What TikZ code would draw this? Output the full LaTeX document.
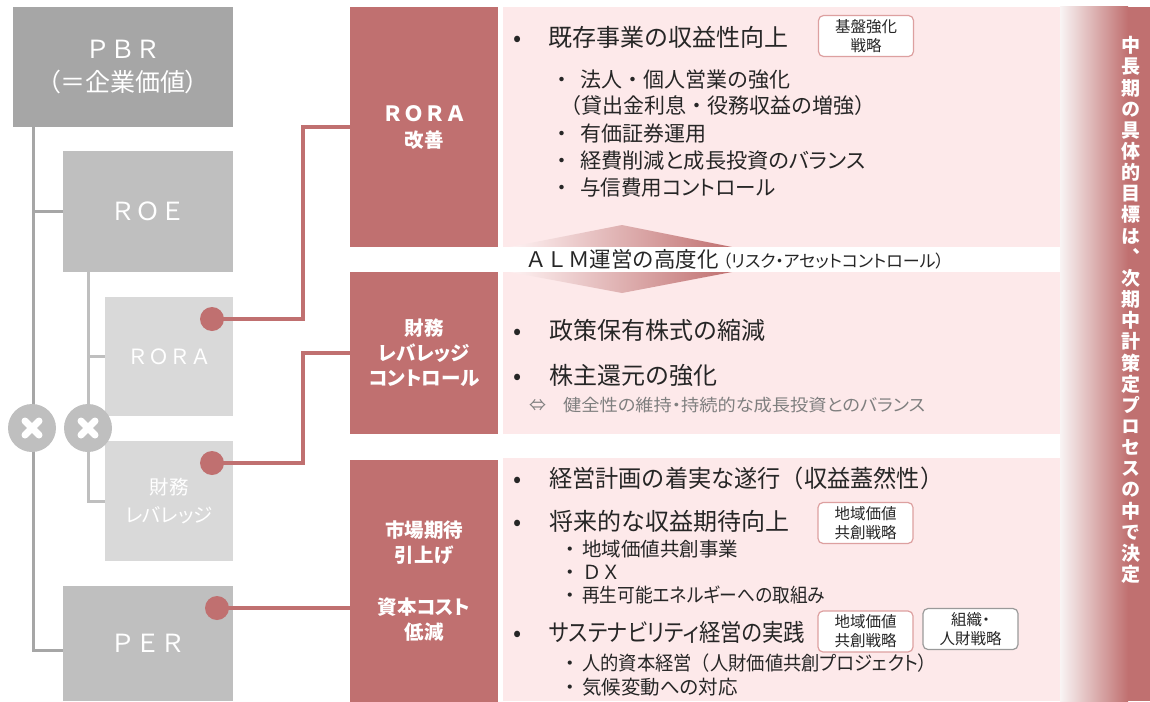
\documentclass[tikz,border=0pt]{standalone}
\usepackage{fontspec}
\usepackage{graphicx}
\setmainfont{Noto Sans CJK JP}[RawFeature=+palt]
\newfontfamily\jpfull{Noto Sans CJK JP}
\newfontfamily\jpvert{Noto Sans CJK JP}[RawFeature=+vert]
\usetikzlibrary{calc}
\definecolor{greyD}{HTML}{A6A6A6}
\definecolor{greyM}{HTML}{BFBFBF}
\definecolor{greyL}{HTML}{D9D9D9}
\definecolor{redc}{HTML}{C07070}
\definecolor{pinkc}{HTML}{FDE9EA}
\definecolor{textc}{HTML}{262626}
\definecolor{subgrey}{HTML}{7F7F7F}
\definecolor{tagred}{HTML}{DDA0A0}
\definecolor{taggrey}{HTML}{9A9A9A}
\newcommand\fz[2]{\fontsize{#1}{#2}\selectfont}
\newcommand\fitw[2]{\resizebox{#1}{\height}{#2}}
\begin{document}
\begin{tikzpicture}[x=1pt,y=-1pt,
  box/.style={inner sep=0, outer sep=0, draw=none, text=white, align=center},
  gl/.style={draw=greyD, line width=3pt},
  gl2/.style={draw=greyM, line width=3pt},
  rl/.style={draw=redc, line width=3.3pt},
  dot/.style={circle, fill=redc, minimum size=24pt, inner sep=0},
  xcirc/.style={circle, fill=greyM, minimum size=48pt, inner sep=0},
  xbar/.style={draw=white, line width=7pt, line cap=round},
  tag/.style={draw=tagred, fill=white, rounded corners=5pt, line width=1.2pt, inner sep=0, minimum width=95pt, minimum height=41pt, align=center, font=\fz{15.5}{19}, text=textc},
  item/.style={anchor=west, inner sep=0, text=textc, font=\fz{24}{28}},
  subA/.style={anchor=west, inner sep=0, text=textc, font=\fz{21}{25}},
  subB/.style={anchor=west, inner sep=0, text=textc, font=\fz{19.5}{23}},
  redbold/.style={box, fill=redc, font=\bfseries\fz{19.5}{25}, minimum width=148pt}
]
\useasboundingbox (0,0) rectangle (1150,701);

% ---------- left tree ----------
\node[box, fill=greyD, minimum width=220pt, minimum height=120pt, font=\fz{25}{33}] (pbr) at (123,67)
  {{\jpfull ＰＢＲ}\\（＝企業価値）};
\node[box, fill=greyM, minimum width=170pt, minimum height=121pt, font=\jpfull\fz{25}{30}] (roe) at (148,211.5) {ＲＯＥ};
\node[box, fill=greyL, minimum width=128pt, minimum height=119pt, font=\jpfull\fz{21}{24}] (rora) at (169,356.5) {ＲＯＲＡ};
\node[box, fill=greyL, minimum width=128pt, minimum height=120pt, font=\fz{19.5}{28}] (fin) at (169,501) {財務\\レバレッジ};
\node[box, fill=greyM, minimum width=170pt, minimum height=115pt, font=\jpfull\fz{25}{30}] (per) at (148,643.5) {ＰＥＲ};

\draw[gl] (pbr.south -| 33,0) -- (33,650) -- (per.west |- 0,650);
\draw[gl] (33,0 |- roe.west) -- (roe.west);
\draw[gl2] (roe.south -| 88,0) |- (fin.west);
\draw[gl2] (88,0 |- rora.west) -- (rora.west);

\node[xcirc] (c1) at (32,428) {};
\node[xcirc] (c2) at (88,428) {};
\foreach \c in {c1,c2}{
  \draw[xbar] ([shift={(-7,-7)}]\c.center) -- ([shift={(7,7)}]\c.center);
  \draw[xbar] ([shift={(-7,7)}]\c.center) -- ([shift={(7,-7)}]\c.center);
}

% ---------- red boxes ----------
\node[redbold, minimum height=240pt] (rb1) at (424,127) {{\jpfull\fz{21}{25}ＲＯＲＡ}\\[1pt]改善};
\node[redbold, minimum height=162pt] (rb2) at (424,353) {財務\\レバレッジ\\コントロール};
\node[redbold, minimum height=243pt] (rb3) at (424,581) {市場期待\\引上げ\\[27pt]資本コスト\\低減};

% ---------- connectors ----------
\node[dot] (d1) at (212,319) {};
\node[dot] (d2) at (212,463) {};
\node[dot] (d3) at (217,608) {};
\draw[rl] (d1.center) -| ([xshift=-47pt]rb1.west) -- (rb1.west);
\draw[rl] (d2.center) -| ([xshift=-47pt]rb2.west) -- (rb2.west);
\draw[rl] (d3.center) -- (rb3.west |- d3.center);

% ---------- pink panels ----------
\node[box, fill=pinkc, minimum width=557pt, minimum height=240pt] (p1) at (781.5,127) {};
\node[box, fill=pinkc, minimum width=557pt, minimum height=162pt] (p2) at (781.5,353) {};
\node[box, fill=pinkc, minimum width=557pt, minimum height=243pt] (p3) at (781.5,579.5) {};

% right strip
\shade[left color=pinkc!85!gray!30, right color=redc] (1060,7) rectangle (1128,701);
\fill[redc] (1127.5,7) rectangle (1150,701);
\node[box, font=\jpvert\bfseries\fz{19}{21.15}] (strip) at (1131,310)
  {中\\長\\期\\の\\具\\体\\的\\目\\標\\は\\、\\次\\期\\中\\計\\策\\定\\プ\\ロ\\セ\\ス\\の\\中\\で\\決\\定};

% ALM arrow
\shade[left color=pinkc!60!white, right color=redc] (510,247) -- (622,225) -- (732,247) -- (732,272) -- (622,293) -- (510,272) -- cycle;
\node[box, fill=white, minimum width=554pt, minimum height=25pt] (alm) at (780,259.5) {};
\node[anchor=west, inner sep=0, text=textc] (almt) at (525,259.5)
  {{\jpfull\fz{21.5}{25}ＡＬＭ運営の高度化}\hspace{4pt}{\fz{17}{20}（リスク・アセットコントロール）}};

% ---------- panel 1 ----------
\node[item] (i11) at (513,37) {\makebox[35pt][l]{•}{\jpfull 既存事業の収益性向上}};
\node[tag] (t1) at (866,36) {基盤強化\\戦略};
\node[subA] (s11) at (557,80) {\makebox[23pt][l]{・}{\jpfull 法人・個人営業の強化}};
\node[subA] (s12) at (560,106) {\jpfull （貸出金利息・役務収益の増強）};
\node[subA] (s13) at (557,134) {\makebox[23pt][l]{・}{\jpfull 有価証券運用}};
\node[subA] (s14) at (557,161) {\makebox[23pt][l]{・}\fitw{285pt}{経費削減と成長投資のバランス}};
\node[subA] (s15) at (557,188) {\makebox[23pt][l]{・}\fitw{195pt}{与信費用コントロール}};

% ---------- panel 2 ----------
\node[item] (i21) at (513,330) {\makebox[36pt][l]{•}{\jpfull 政策保有株式の縮減}};
\node[item] (i22) at (513,375) {\makebox[36pt][l]{•}{\jpfull 株主還元の強化}};
\node[anchor=west, inner sep=0, text=subgrey, font=\fz{17}{20}] (n21) at (529,405) {\makebox[34pt][l]{⇔}\fitw{362pt}{健全性の維持・持続的な成長投資とのバランス}};

% ---------- panel 3 ----------
\node[item] (i31) at (513,478) {\makebox[36pt][l]{•}\fitw{394pt}{\jpfull 経営計画の着実な遂行（収益蓋然性）}};
\node[item] (i32) at (513,521) {\makebox[36pt][l]{•}{\jpfull 将来的な収益期待向上}};
\node[tag] (t2) at (865.5,523) {地域価値\\共創戦略};
\node[subB] (s31) at (565,549) {\makebox[17pt][l]{・}地域価値共創事業};
\node[subB] (s32) at (565,572) {\makebox[17pt][l]{・}{\jpfull ＤＸ}};
\node[subB] (s33) at (565,595) {\makebox[17pt][l]{・}\fitw{243pt}{再生可能エネルギーへの取組み}};
\node[item] (i33) at (513,632) {\makebox[36pt][l]{•}\fitw{256pt}{サステナビリティ経営の実践}};
\node[tag] (t3) at (865.5,631.5) {地域価値\\共創戦略};
\node[tag, draw=taggrey] (t4) at (970.5,629) {組織・\\人財戦略};
\node[subB] (s34) at (565,663) {\makebox[17pt][l]{・}\fitw{345pt}{人的資本経営{\jpfull （}人財価値共創プロジェクト）}};
\node[subB] (s35) at (565,687) {\makebox[17pt][l]{・}気候変動への対応};
\end{tikzpicture}
\end{document}
